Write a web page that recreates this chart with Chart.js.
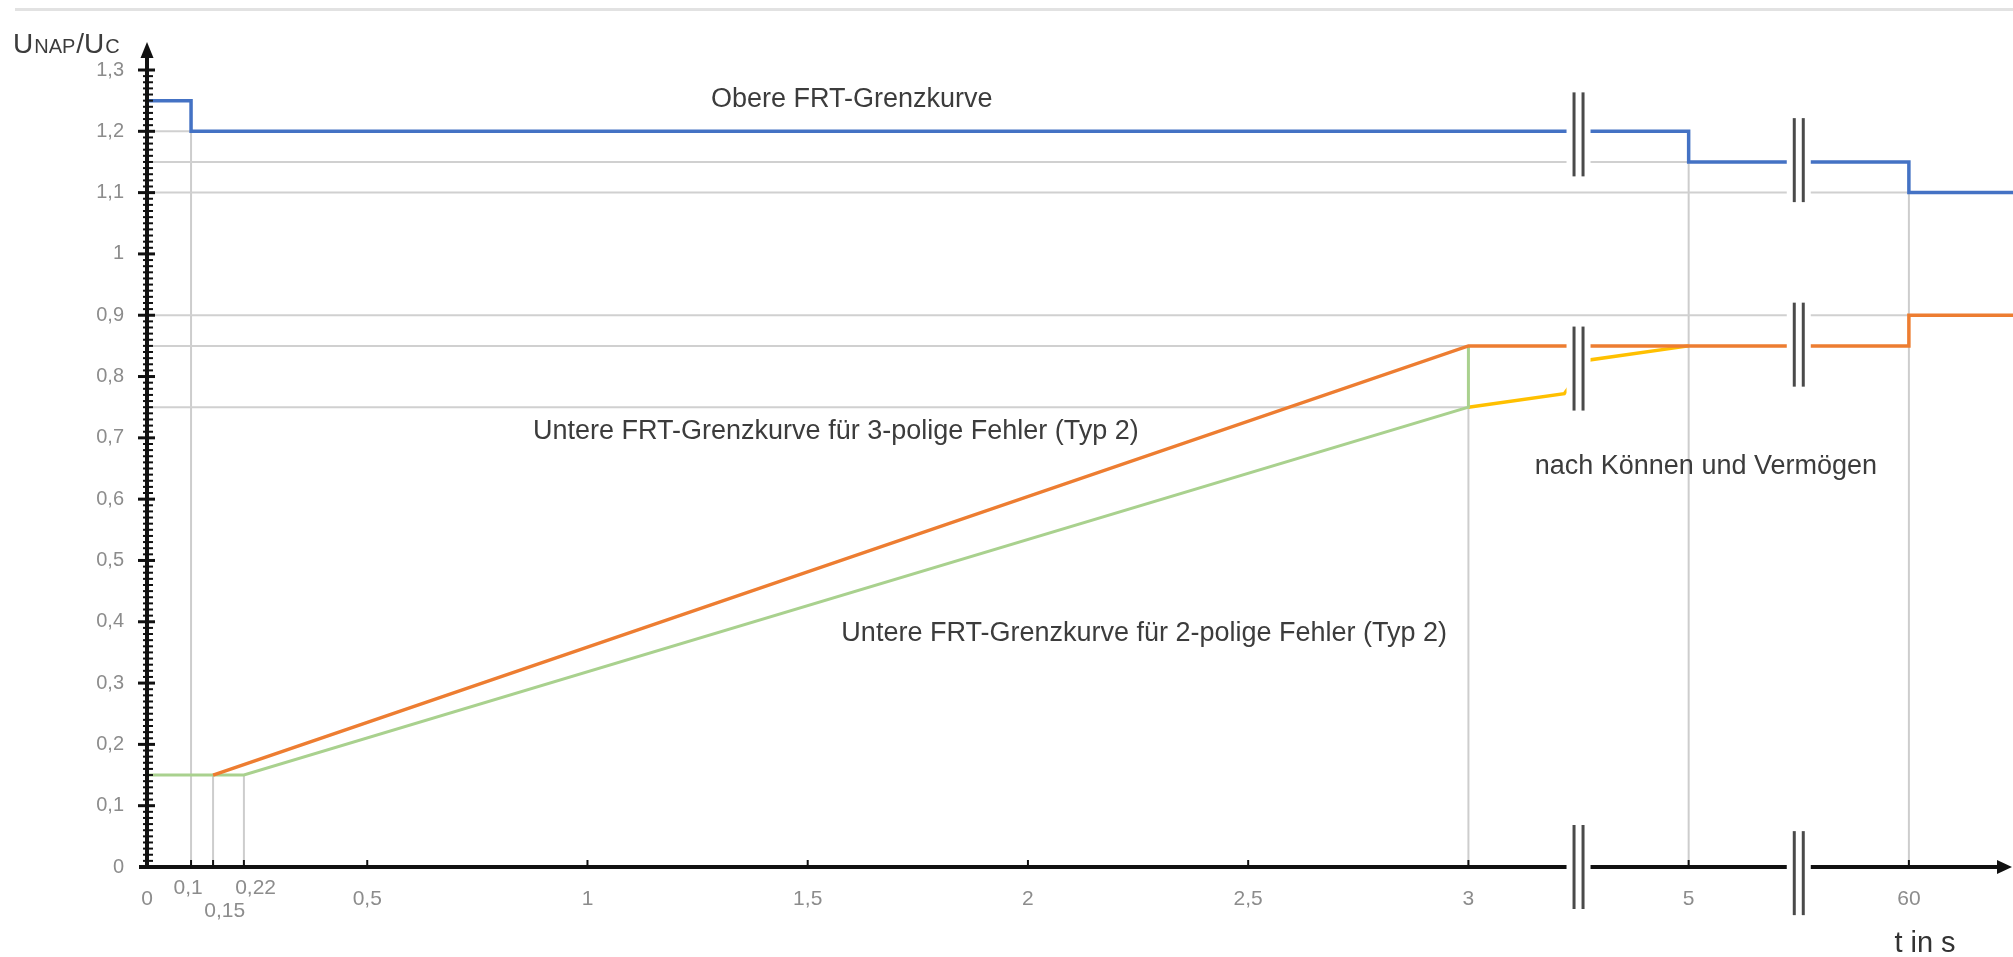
<!DOCTYPE html>
<html lang="de">
<head>
<meta charset="utf-8">
<title>FRT-Grenzkurven</title>
<script src="https://cdn.jsdelivr.net/npm/chart.js@4.4.1/dist/chart.umd.min.js"></script>
<style>
    html, body { margin: 0; padding: 0; background: #fff; }
    #frtChart { display: block; }
</style>
</head>
<body>
<canvas id="frtChart" width="2013" height="957"></canvas>
<script>
// Zeit in s, Spannung als U_NAP/U_C
const obereT = [0, 0.1, 0.1, 5, 5, 60, 60, 86];
const obereU = [1.25, 1.25, 1.2, 1.2, 1.15, 1.15, 1.1, 1.1];

const untere3T = [0.15, 3, 60, 60, 86];
const untere3U = [0.15, 0.85, 0.85, 0.9, 0.9];

const untere2T = [0, 0.22, 3, 3];
const untere2U = [0.15, 0.15, 0.75, 0.85];

const koennenT = [3, 3.87, 4.1, 5];
const koennenU = [0.75, 0.772, 0.827, 0.85];

// Hilfslinien
const guideLevels = [1.2, 1.15, 1.1, 0.9, 0.85, 0.75];
const guideEnds = [0.1, 5, 60, 60, 3, 3];
const dropTimes = [0.1, 0.15, 0.22, 3, 5, 60];
const dropTops = [1.2, 0.15, 0.15, 0.85, 1.15, 1.1];

const xTickTimes = [0, 0.1, 0.15, 0.22, 0.5, 1, 1.5, 2, 2.5, 3, 5, 60];
const xTickLabels = ['0', '0,1', '0,15', '0,22', '0,5', '1', '1,5', '2', '2,5', '3', '5', '60'];

// Achsenbrueche
const breakTimes = [4, 32.5];
const breakLevels = [[1.195, 0.813, 0], [1.153, 0.852, -0.01]];

const notes = [
    { text: 'Obere FRT-Grenzkurve', t: 1.6, u: 1.251 },
    { text: 'Untere FRT-Grenzkurve für 3-polige Fehler (Typ 2)', t: 1.564, u: 0.71 },
    { text: 'Untere FRT-Grenzkurve für 2-polige Fehler (Typ 2)', t: 2.264, u: 0.38 },
    { text: 'nach Können und Vermögen', t: 9.3, u: 0.653 }
];

const FONT = '"Liberation Sans", Arial, sans-serif';

// gebrochene Zeitachse: 0..3 linear, 3..5 und 5..60 gestaucht
function axisPos(t) {
    if (t <= 3) return t;
    if (t <= 5) return 3 + (t - 3) / 4;
    return 3.5 + (t - 5) / 110;
}

function toPoints(ts, us) {
    return ts.map((t, i) => ({ x: axisPos(t), y: us[i] }));
}

function fmtNum(v) {
    return String(Number(v.toFixed(2))).replace('.', ',');
}

// die engen Beschriftungen bei 0,1 / 0,15 / 0,22 etwas versetzt, wie im Original
function tickLines(i) {
    let label = xTickLabels[i];
    let level = 1;
    if (label === '0,1') { level = 0; label = label + ' '; }
    if (label === '0,22') { level = 0; label = '    ' + label; }
    if (label === '0,15') { level = 2; label = '    ' + label; }
    if (level === 0) return label;
    const lines = new Array(level).fill('');
    lines.push(label);
    return lines;
}

function strokeLine(ctx, x1, y1, x2, y2) {
    ctx.beginPath();
    ctx.moveTo(x1, y1);
    ctx.lineTo(x2, y2);
    ctx.stroke();
}

const frtPlugin = {
    id: 'frtDecor',
    beforeDraw(chart) {
        const ctx = chart.ctx;
        ctx.save();
        ctx.fillStyle = '#fff';
        ctx.fillRect(0, 0, chart.width, chart.height);
        ctx.fillStyle = '#e2e2e2';
        ctx.fillRect(15, 8, chart.width - 15, 3);
        ctx.restore();
    },
    afterDatasetsDraw(chart) {
        const ctx = chart.ctx;
        const ax = chart.scales.x;
        const ay = chart.scales.y;
        const x0 = ax.getPixelForValue(0);
        const y0 = ay.getPixelForValue(0);
        ctx.save();
        ctx.strokeStyle = '#111';
        ctx.fillStyle = '#111';

        // x-Achse mit Pfeil
        ctx.lineWidth = 4;
        strokeLine(ctx, x0 - 8, y0, chart.width - 12, y0);
        ctx.beginPath();
        ctx.moveTo(chart.width - 1, y0);
        ctx.lineTo(chart.width - 16, y0 - 7);
        ctx.lineTo(chart.width - 16, y0 + 7);
        ctx.closePath();
        ctx.fill();
        ctx.lineWidth = 2;
        xTickTimes.slice(1).forEach(t => {
            const x = ax.getPixelForValue(axisPos(t));
            strokeLine(ctx, x, y0 - 7, x, y0);
        });

        // y-Achse mit Pfeil
        ctx.lineWidth = 4;
        strokeLine(ctx, x0, y0 + 2, x0, 56);
        ctx.beginPath();
        ctx.moveTo(x0, 42);
        ctx.lineTo(x0 - 6.5, 58);
        ctx.lineTo(x0 + 6.5, 58);
        ctx.closePath();
        ctx.fill();
        for (let k = 1; k <= 130; k++) {
            const y = ay.getPixelForValue(k / 100);
            if (k % 10 === 0) {
                ctx.lineWidth = 3;
                strokeLine(ctx, x0 - 9, y, x0 + 8, y);
            } else {
                ctx.lineWidth = 2;
                strokeLine(ctx, x0 - 4, y, x0 + 6, y);
            }
        }

        // Achsenbrueche
        breakTimes.forEach((t, i) => {
            const x = ax.getPixelForValue(axisPos(t));
            breakLevels[i].forEach(u => {
                const y = ay.getPixelForValue(u);
                const h = 42;
                ctx.fillStyle = '#fff';
                ctx.fillRect(x - 12, y - h, 24, 2 * h);
                ctx.strokeStyle = '#4a4a4a';
                ctx.lineWidth = 3;
                strokeLine(ctx, x - 4.5, y - h, x - 4.5, y + h);
                strokeLine(ctx, x + 4.5, y - h, x + 4.5, y + h);
            });
        });

        // Beschriftungen
        ctx.fillStyle = '#3c3c3c';
        ctx.font = '27px ' + FONT;
        ctx.textAlign = 'center';
        ctx.textBaseline = 'middle';
        notes.forEach(n => {
            ctx.fillText(n.text, ax.getPixelForValue(axisPos(n.t)), ay.getPixelForValue(n.u));
        });

        // Achsentitel
        ctx.textAlign = 'left';
        ctx.textBaseline = 'alphabetic';
        let cx = 13;
        [['U', 28], ['NAP', 20], ['/U', 28], ['C', 20]].forEach(([s, size]) => {
            ctx.font = size + 'px ' + FONT;
            ctx.fillText(s, cx, 53);
            cx += ctx.measureText(s).width + 1;
        });
        ctx.fillStyle = '#333';
        ctx.font = '29px ' + FONT;
        ctx.textAlign = 'center';
        ctx.fillText('t in s', 1925, 952);
        ctx.restore();
    }
};

const guideSets = guideLevels.map((u, i) => ({
    data: [{ x: 0, y: u }, { x: axisPos(guideEnds[i]), y: u }],
    borderColor: '#d0d0d0',
    borderWidth: 2,
    order: 10
})).concat(dropTimes.map((t, i) => ({
    data: [{ x: axisPos(t), y: 0 }, { x: axisPos(t), y: dropTops[i] }],
    borderColor: '#cdcdcd',
    borderWidth: 2,
    order: 10
})));

new Chart(document.getElementById('frtChart'), {
    type: 'line',
    data: {
        datasets: [
            { label: 'Obere FRT-Grenzkurve', data: toPoints(obereT, obereU), borderColor: '#4472C4', borderWidth: 3.5, order: 3 },
            { label: 'Untere FRT-Grenzkurve 3-polig', data: toPoints(untere3T, untere3U), borderColor: '#ED7D31', borderWidth: 3.5, order: 0 },
            { label: 'Untere FRT-Grenzkurve 2-polig', data: toPoints(untere2T, untere2U), borderColor: '#A9D18E', borderWidth: 3, order: 1 },
            { label: 'nach Können und Vermögen', data: toPoints(koennenT, koennenU), borderColor: '#FFC000', borderWidth: 3.5, order: 2 }
        ].concat(guideSets)
    },
    options: {
        responsive: false,
        animation: false,
        devicePixelRatio: 1,
        layout: { padding: { top: 70, left: 0, right: 0, bottom: 0 } },
        plugins: { legend: { display: false }, tooltip: { enabled: false } },
        elements: { point: { radius: 0 }, line: { tension: 0 } },
        scales: {
            x: {
                type: 'linear',
                min: 0,
                max: axisPos(86),
                grid: { display: false, drawTicks: false },
                border: { display: false },
                afterBuildTicks: s => { s.ticks = xTickTimes.map(t => ({ value: axisPos(t) })); },
                afterFit: s => { s.height = 90; },
                ticks: {
                    autoSkip: false,
                    maxRotation: 0,
                    minRotation: 0,
                    padding: 15,
                    color: '#8c8c8c',
                    font: { family: FONT, size: 21, lineHeight: 0.55 },
                    callback: (v, i) => tickLines(i)
                }
            },
            y: {
                min: 0,
                max: 1.3,
                grid: { display: false, drawTicks: false },
                border: { display: false },
                afterFit: s => { s.width = 147; },
                ticks: {
                    stepSize: 0.1,
                    padding: 23,
                    color: '#8c8c8c',
                    font: { family: FONT, size: 20 },
                    callback: v => fmtNum(v)
                }
            }
        }
    },
    plugins: [frtPlugin]
});
</script>
</body>
</html>
